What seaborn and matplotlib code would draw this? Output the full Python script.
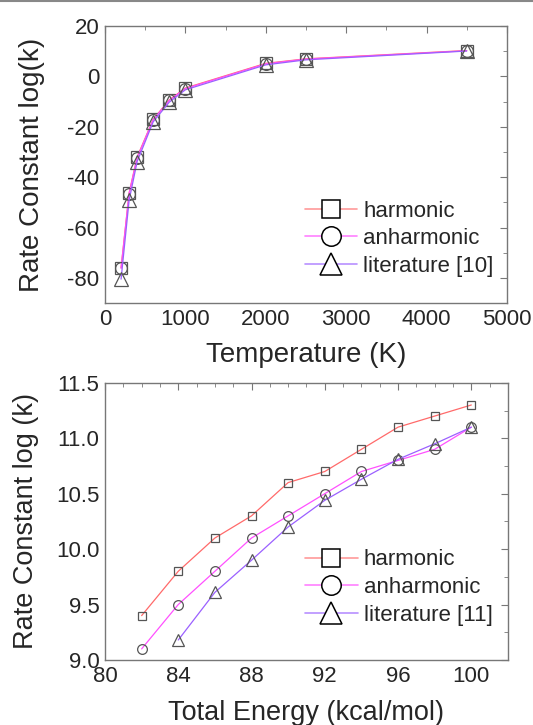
import matplotlib
matplotlib.use("Agg")
import matplotlib.pyplot as plt
from matplotlib.lines import Line2D
from matplotlib.ticker import MultipleLocator, FormatStrFormatter
import seaborn as sns
import pandas as pd

# ---- data: top panel (temperature dependence) ----
temperature = [200, 300, 400, 600, 800, 1000, 2000, 2500, 4500]
top_harmonic = [-76, -46.3, -32, -17, -9.3, -4.6, 5.2, 7.0, 10.3]
top_anharmonic = [-76.2, -46.5, -32.3, -17.2, -9.5, -4.8, 5.0, 6.9, 10.2]
top_literature = [-80.5, -49.2, -33.8, -18.0, -10.2, -5.3, 4.6, 6.6, 10.1]

# ---- data: bottom panel (energy dependence) ----
energy = [82, 84, 86, 88, 90, 92, 94, 96, 98, 100]
bot_harmonic = [9.4, 9.8, 10.1, 10.3, 10.6, 10.7, 10.9, 11.1, 11.2, 11.3]
bot_anharmonic = [9.1, 9.5, 9.8, 10.1, 10.3, 10.5, 10.7, 10.8, 10.9, 11.1]
energy_lit = [84, 86, 88, 90, 92, 94, 96, 98, 100]
bot_literature = [9.18, 9.61, 9.9, 10.2, 10.44, 10.63, 10.81, 10.95, 11.1]

labels_top = ["harmonic", "anharmonic", "literature [10]"]
labels_bot = ["harmonic", "anharmonic", "literature [11]"]
markers = ["s", "o", "^"]
line_colors = ["#ff6a6a", "#ff50ff", "#9b60ff"]
legend_colors = ["#ff9a9a", "#ff80ff", "#b890ff"]

sns.set_style("white")
plt.rcParams["font.family"] = ["Liberation Sans", "DejaVu Sans"]
plt.rcParams["axes.unicode_minus"] = False

fig = plt.figure(figsize=(5.33, 7.25), dpi=100)
ax1 = fig.add_axes([0.197, 0.582, 0.754, 0.382])
ax2 = fig.add_axes([0.197, 0.0897, 0.756, 0.3823])

def draw(ax, x_list, ys, msizes):
    for (xv, yv), mk, col, ms in zip(zip(x_list, ys), markers, line_colors, msizes):
        df = pd.DataFrame({"x": xv, "y": yv})
        sns.lineplot(data=df, x="x", y="y", ax=ax, color=col, lw=0.9,
                     marker=mk, markersize=ms, markerfacecolor="none",
                     markeredgecolor="#555555", markeredgewidth=0.9,
                     legend=False)

draw(ax1, [temperature, temperature, temperature],
     [top_harmonic, top_anharmonic, top_literature], [8, 8.5, 9.5])
draw(ax2, [energy, energy, energy_lit],
     [bot_harmonic, bot_anharmonic, bot_literature], [6.3, 7, 8])

def legend(ax, labels, loc_anchor):
    handles = [Line2D([0], [0], color=c, lw=1.2, marker=m, markersize=ms,
                      markerfacecolor="white", markeredgecolor="black",
                      markeredgewidth=1.1)
               for c, m, ms in zip(legend_colors, markers, [12.5, 14, 15.5])]
    ax.legend(handles, labels, loc="upper left", bbox_to_anchor=loc_anchor,
              frameon=False, fontsize=16, handlelength=2.35,
              handletextpad=0.27, labelspacing=0.3, borderaxespad=0)

legend(ax1, labels_top, (0.475, 0.402))
legend(ax2, labels_bot, (0.475, 0.431))

for ax in (ax1, ax2):
    for s in ax.spines.values():
        s.set_color("#777777")
        s.set_linewidth(1.0)
    ax.tick_params(which="both", direction="in", top=True, right=True,
                   color="#777777", labelsize=16, pad=4)
    ax.tick_params(which="major", length=5)
    ax.tick_params(which="minor", length=3)

ax1.set_xlim(0, 5000)
ax1.set_ylim(-90, 20)
ax1.xaxis.set_major_locator(MultipleLocator(1000))
ax1.xaxis.set_minor_locator(MultipleLocator(500))
ax1.yaxis.set_major_locator(MultipleLocator(20))
ax1.yaxis.set_minor_locator(MultipleLocator(10))
ax1.set_xlabel("Temperature (K)", fontsize=20, labelpad=9)
ax1.set_ylabel("Rate Constant log(k)", fontsize=20, labelpad=16)

ax2.set_xlim(80, 102)
ax2.set_ylim(9.0, 11.5)
ax2.xaxis.set_major_locator(MultipleLocator(4))
ax2.xaxis.set_minor_locator(MultipleLocator(1))
ax2.yaxis.set_major_locator(MultipleLocator(0.5))
ax2.yaxis.set_minor_locator(MultipleLocator(0.25))
ax2.yaxis.set_major_formatter(FormatStrFormatter("%.1f"))
ax2.set_xlabel("Total Energy (kcal/mol)", fontsize=19.5, labelpad=10)
ax2.set_ylabel("Rate Constant log (k)", fontsize=19.5, labelpad=12)

fig.add_artist(Line2D([0, 1], [0.9985, 0.9985], color="#888888", lw=1.5,
                      transform=fig.transFigure))

fig.savefig("out.png", dpi=100, facecolor="white")
